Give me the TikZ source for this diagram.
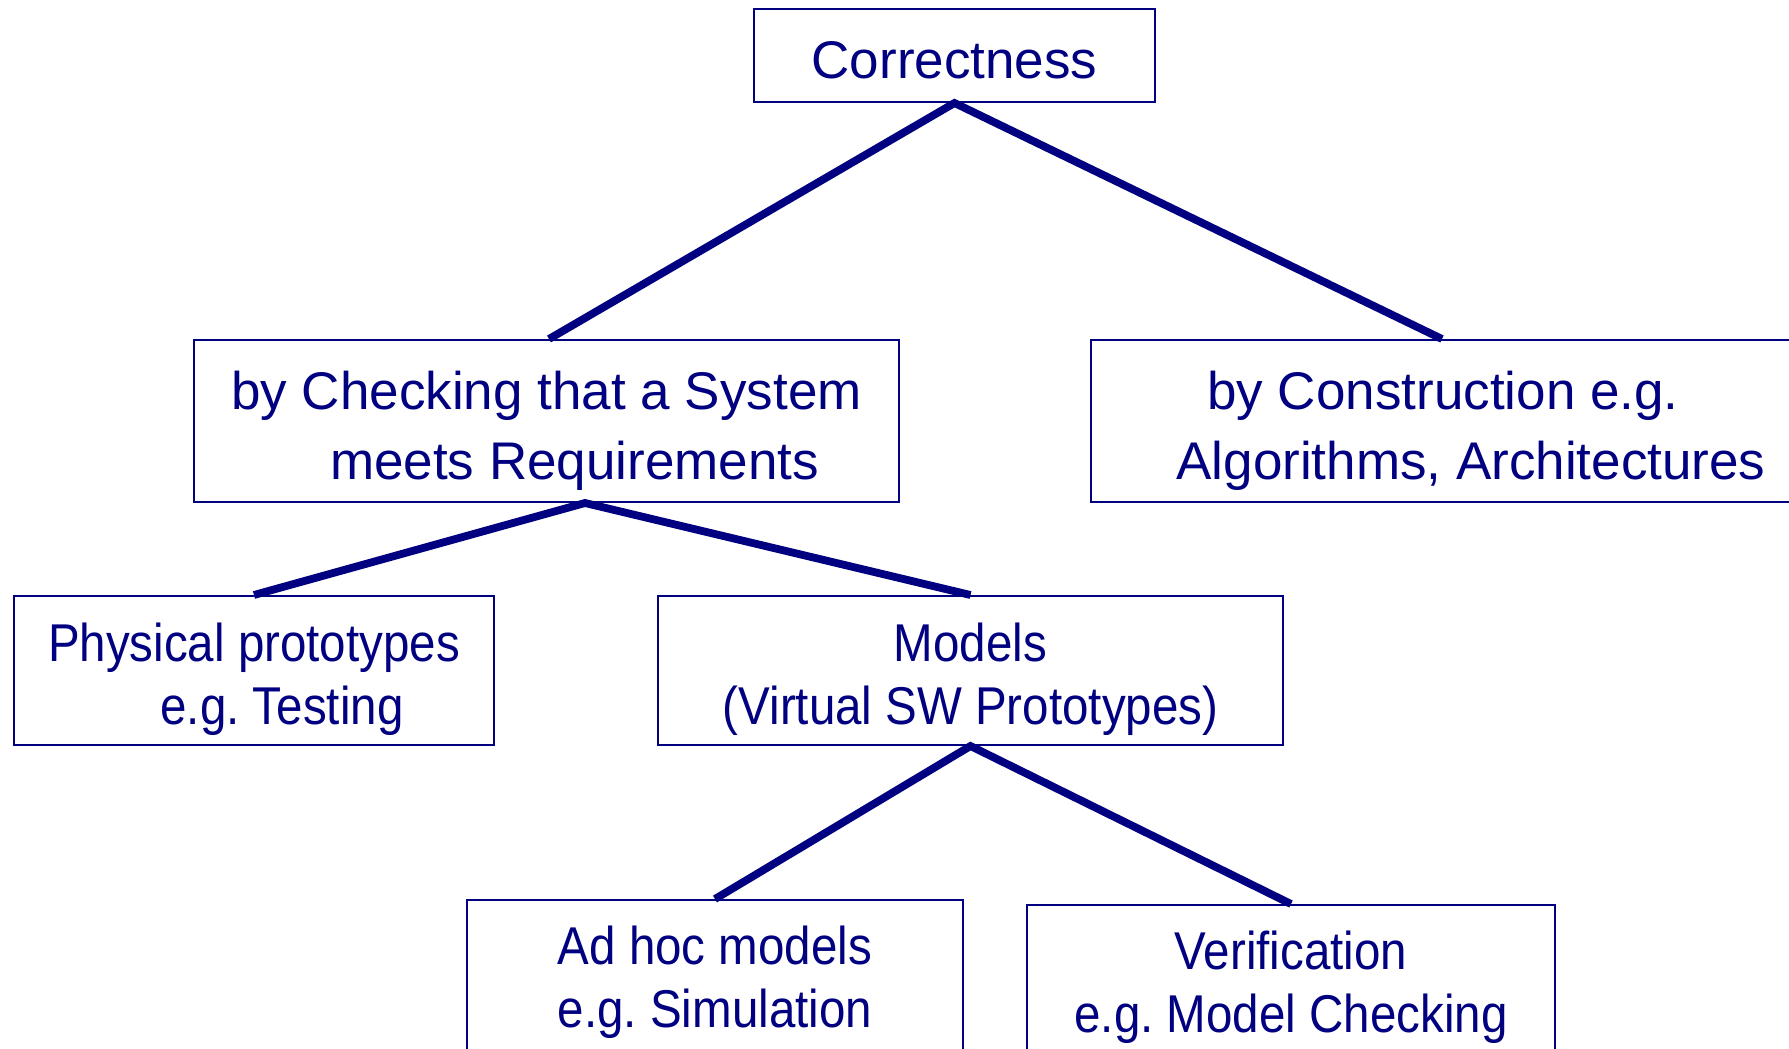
\documentclass[tikz,border=0pt]{standalone}
\usepackage{fontspec}
\setmainfont{Liberation Sans}
\usepackage{graphicx}
\frenchspacing
\definecolor{ink}{RGB}{0,0,128}
% slightly tall lettering used in the lower boxes
\newcommand\tallline[1]{\scalebox{1}[1.12]{#1}}
\tikzset{
  box/.style 2 args={draw=ink, line width=1pt, inner sep=0pt,
    minimum width=#1, minimum height=#2},
  caption/.style={text=ink, align=center, inner sep=0pt},
  bigtext/.style={caption, font=\fontsize{26.5pt}{35pt}\selectfont},
  smalltext/.style={caption, font=\fontsize{23.75pt}{31.5pt}\selectfont},
  link/.style={draw=ink, line width=3.9pt, line join=miter}
}
\begin{document}
\begin{tikzpicture}[x=0.5pt,y=-0.5pt]
  \useasboundingbox (0,0) rectangle (1789,1049);
  \clip (0,0) rectangle (1789,1049);

  % boxes
  \node[box={200.5pt}{46.5pt}] (corr) at (954.5,55.5) {};
  \node[box={352.5pt}{81pt}] (check) at (546.5,421) {};
  \node[box={380pt}{81pt}] (constr) at (1471,421) {};
  \node[box={240pt}{74.5pt}] (phys) at (254,670.5) {};
  \node[box={312.5pt}{74.5pt}] (models) at (970.5,670.5) {};
  \node[box={248pt}{75pt}] (adhoc) at (715,975) {};
  \node[box={264pt}{75pt}] (verif) at (1291,980) {};

  % captions
  \node[bigtext] (corr-t) at ([yshift=-2.3pt]corr.center) {Correctness};
  \node[bigtext] (check-t) at ([yshift=-5pt]check.center)
    {by Checking that a System\\\hspace*{28pt}meets Requirements};
  \node[bigtext] (constr-t) at ([yshift=-5pt]constr.center)
    {by Construction e.g.\hspace*{28pt}\\Algorithms, Architectures};
  \node[smalltext] (phys-t) at ([yshift=-4.2pt]phys.center)
    {\tallline{Physical prototypes}\\\tallline{\hspace*{28pt}e.g. Testing}};
  \node[smalltext] (models-t) at ([yshift=-4.2pt]models.center)
    {\tallline{Models}\\\tallline{(Virtual SW Prototypes)}};
  \node[smalltext] (adhoc-t) at ([yshift=-3.7pt]adhoc.center)
    {\tallline{Ad hoc models}\\\tallline{e.g. Simulation}};
  \node[smalltext] (verif-t) at ([yshift=-3.7pt]verif.center)
    {\tallline{Verification}\\\tallline{e.g. Model Checking}};

  % connectors
  \draw[link] ([xshift=1.25pt]check.north) -- (corr.south) -- ([xshift=-14.5pt]constr.north);
  \draw[link] (phys.north) -- ([xshift=19.25pt]check.south) -- (models.north);
  \draw[link] (adhoc.north) -- (models.south) -- (verif.north);
\end{tikzpicture}
\end{document}
